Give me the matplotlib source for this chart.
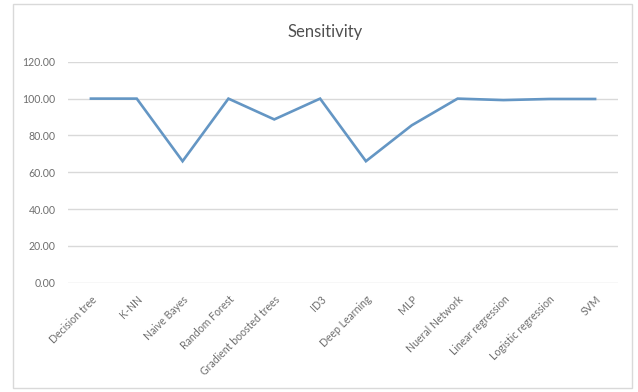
import matplotlib
matplotlib.use("Agg")
import matplotlib.pyplot as plt
from matplotlib.patches import Rectangle
from matplotlib.ticker import FormatStrFormatter

models = [
    "Decision tree", "K-NN", "Naive Bayes", "Random Forest",
    "Gradient boosted trees", "ID3", "Deep Learning", "MLP",
    "Nueral Network", "Linear regression", "Logistic regression", "SVM",
]
sensitivity = [100.0, 100.0, 66.0, 100.0, 88.7, 100.0, 66.0, 85.5,
               100.0, 99.2, 99.8, 99.8]
y_ticks = [0, 20, 40, 60, 80, 100, 120]

plt.rcParams["font.family"] = ["Lato", "DejaVu Sans"]

fig = plt.figure(figsize=(6.38, 3.92), dpi=100)
fig.patch.set_facecolor("white")

# chart frame
fig.patches.append(Rectangle((13 / 638, 1 - 388 / 392), 619 / 638, 384 / 392,
                             transform=fig.transFigure, fill=False,
                             edgecolor="#d9d9d9", linewidth=1.0))

ax = fig.add_axes([68 / 638, 1 - 282.7 / 392, 550 / 638, 220.9 / 392])
x = list(range(len(models)))
ax.plot(x, sensitivity, color="#6496c4", linewidth=1.9, solid_joinstyle="miter")

ax.set_xlim(-0.5, len(models) - 0.5)
ax.set_ylim(0, 120)
ax.set_yticks(y_ticks)
ax.yaxis.set_major_formatter(FormatStrFormatter("%.2f"))
ax.set_xticks(x)
ax.set_xticklabels(models, rotation=45, ha="right", rotation_mode="anchor")

ax.grid(axis="y", color="#d9d9d9", linewidth=1.0)
ax.set_axisbelow(True)
for spine in ax.spines.values():
    spine.set_visible(False)
ax.tick_params(axis="both", length=0, labelsize=7.6, labelcolor="#6f6f6f")
ax.tick_params(axis="y", pad=9)
ax.tick_params(axis="x", pad=8)

fig.text(325 / 638, 1 - 32 / 392, "Sensitivity", ha="center", va="center",
         fontsize=12, color="#505050")

fig.savefig("out.png", dpi=100)
